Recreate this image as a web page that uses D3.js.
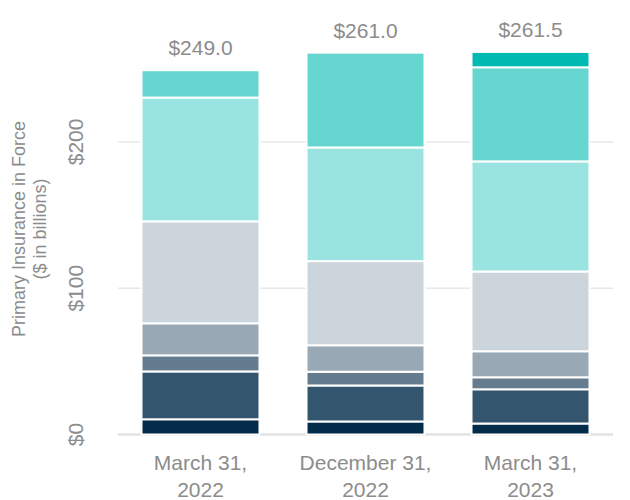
<!DOCTYPE html>
<html>
<head>
<meta charset="utf-8">
<script src="https://cdn.jsdelivr.net/npm/d3@7"></script>
<style>
  html, body { margin: 0; padding: 0; background: #fff; }
  svg { display: block; font-family: "Liberation Sans", Arial, sans-serif; }
</style>
</head>
<body>
<svg id="chart" width="630" height="500"></svg>
<script>
// ---- data ----
const categories = [["March 31,", "2022"], ["December 31,", "2022"], ["March 31,", "2023"]];
const seriesNames = ["s1", "s2", "s3", "s4", "s5", "s6", "s7", "s8"];
const s1 = [10.4, 8.9, 7.5];
const s2 = [32.7, 24.6, 23.4];
const s3 = [11.0, 9.4, 8.2];
const s4 = [21.9, 18.1, 17.8];
const s5 = [69.7, 57.5, 54.5];
const s6 = [84.6, 77.7, 75.3];
const s7 = [18.7, 64.8, 64.3];
const s8 = [0, 0, 10.5];
const totals = ["$249.0", "$261.0", "$261.5"];
const yTicks = [0, 100, 200];
const colors = ["#032b4a", "#34556e", "#657c8f", "#99a8b5", "#cdd5dc", "#99e4e0", "#66d6d0", "#00b9b1"];

const seriesValues = [s1, s2, s3, s4, s5, s6, s7, s8];
const table = categories.map((c, i) => {
  const row = { key: i };
  seriesNames.forEach((s, j) => row[s] = seriesValues[j][i]);
  return row;
});

const svg = d3.select("#chart");
const textColor = "#8c8c8c";

const x = d3.scaleBand().domain(d3.range(categories.length)).range([118, 613]).paddingInner(0.285).paddingOuter(0.1425);
const y = d3.scaleLinear().domain([0, 280]).range([434.5, 434.5 - 280 * 1.463]);

// gridlines
svg.append("g").selectAll("line").data(yTicks).join("line")
  .attr("x1", 118).attr("x2", 613)
  .attr("y1", d => y(d)).attr("y2", d => y(d))
  .attr("stroke", d => d === 0 ? "#e2e2e2" : "#e8e8e8")
  .attr("stroke-width", d => d === 0 ? 2.5 : 1.5);

// y tick labels (rotated)
svg.append("g").selectAll("text").data(yTicks).join("text")
  .attr("transform", d => `translate(83,${y(d)}) rotate(-90)`)
  .attr("text-anchor", "middle")
  .attr("font-size", 21)
  .attr("fill", textColor)
  .text(d => "$" + d);

// axis title
const title = svg.append("text")
  .attr("transform", "translate(25,229) rotate(-90)")
  .attr("text-anchor", "middle")
  .attr("font-size", 18)
  .attr("fill", textColor);
title.append("tspan").attr("x", 0).attr("dy", 0).text("Primary Insurance in Force");
title.append("tspan").attr("x", 0).attr("dy", 21).text("($ in billions)");

// stacked bars
const stack = d3.stack().keys(seriesNames)(table);
svg.append("g").selectAll("g").data(stack).join("g")
  .attr("fill", (d, i) => colors[i])
  .selectAll("rect").data(d => d.filter(p => p[1] - p[0] > 0)).join("rect")
  .attr("x", d => x(d.data.key))
  .attr("width", x.bandwidth())
  .attr("y", d => y(d[1]))
  .attr("height", d => y(d[0]) - y(d[1]))
  .attr("stroke", "#fff")
  .attr("stroke-width", 2);

// totals
const tops = table.map(r => d3.sum(seriesNames, s => r[s]));
svg.append("g").selectAll("text").data(totals).join("text")
  .attr("x", (d, i) => x(i) + x.bandwidth() / 2)
  .attr("y", (d, i) => y(tops[i]) - 15)
  .attr("text-anchor", "middle")
  .attr("font-size", 21)
  .attr("fill", textColor)
  .text(d => d);

// x labels
const xl = svg.append("g").selectAll("text").data(categories).join("text")
  .attr("text-anchor", "middle")
  .attr("font-size", 21)
  .attr("fill", textColor)
  .attr("transform", (d, i) => `translate(${x(i) + x.bandwidth() / 2},470)`);
xl.selectAll("tspan").data(d => d).join("tspan")
  .attr("x", 0).attr("y", (d, i) => i * 26.5)
  .text(d => d);
</script>
</body>
</html>
